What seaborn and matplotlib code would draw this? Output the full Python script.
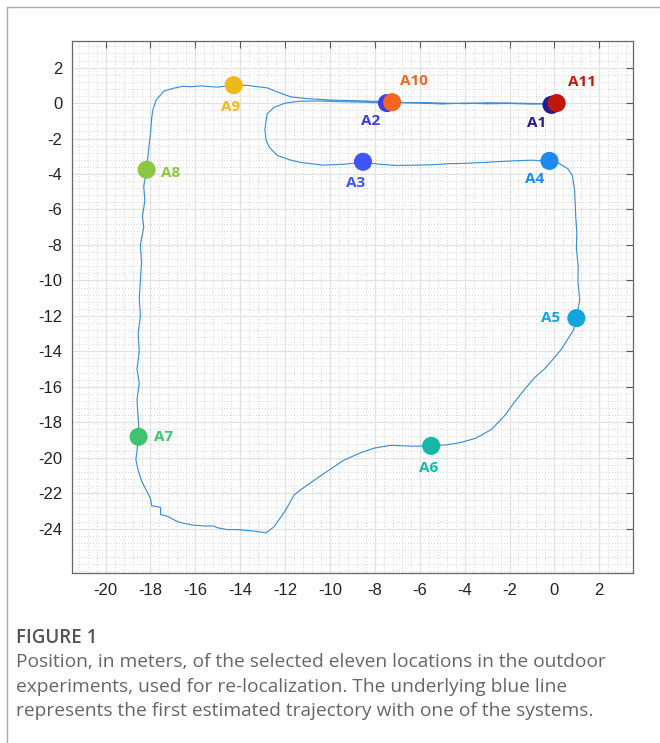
import numpy as np
import pandas as pd
import matplotlib
matplotlib.use("Agg")
import matplotlib.pyplot as plt
from matplotlib.ticker import MultipleLocator
import seaborn as sns

# estimated trajectory (m)
traj_x = [-0.1, -1.0, -2.0, -3.0, -4.0, -5.0, -6.0, -7.0, -7.46, -8.5, -9.5, -10.5, -11.4, -12.0,
          -12.5, -12.8, -12.85, -12.9, -12.85, -12.7, -12.35, -11.8, -11.3, -10.3, -9.4, -8.53,
          -7.8, -6.98, -6.2, -5.5, -4.7, -4.0, -3.2, -2.5, -1.7, -1.0, -0.22, 0.2, 0.6, 0.8, 0.9,
          0.92, 0.95, 1.0, 0.98, 1.06, 1.05, 1.13, 0.98, 0.85, 0.55, 0.3, -0.1, -0.45, -0.9, -1.3,
          -1.8, -2.2, -2.8, -3.5, -4.2, -4.8, -5.49, -6.3, -7.3, -8.0, -8.6, -9.4, -10.4, -11.3,
          -11.6, -12.0, -12.5, -12.86, -13.3, -13.7, -14.2, -14.6, -15.0, -15.2, -15.6, -16.1,
          -16.5, -16.8, -17.25, -17.55, -17.55, -17.95, -18.0, -18.2, -18.4, -18.55, -18.65,
          -18.6, -18.58, -18.48, -18.56, -18.6, -18.5, -18.6, -18.5, -18.55, -18.45, -18.5,
          -18.45, -18.4, -18.45, -18.3, -18.36, -18.25, -18.3, -18.17, -18.1, -18.0, -17.95,
          -17.9, -17.75, -17.4, -16.95, -16.56, -16.2, -15.76, -15.4, -15.0, -14.29, -13.67,
          -13.3, -12.8, -12.3, -11.74, -11.0, -9.96, -9.0, -8.0, -7.23, -6.0, -5.0, -4.0, -3.0,
          -2.0, -1.0, 0.1]
traj_y = [-0.05, -0.02, 0.0, 0.02, -0.03, 0.0, 0.03, 0.02, 0.0, 0.05, 0.08, 0.12, 0.1, 0.0,
          -0.25, -0.6, -1.0, -1.5, -2.1, -2.5, -2.95, -3.2, -3.35, -3.5, -3.45, -3.33,
          -3.45, -3.52, -3.5, -3.48, -3.42, -3.4, -3.35, -3.3, -3.25, -3.22, -3.28, -3.4, -3.7,
          -4.1, -4.9, -5.5, -6.4, -7.3, -8.2, -9.2, -10.1, -11.1, -12.15, -12.8, -13.4, -13.9,
          -14.5, -15.0, -15.5, -16.1, -16.9, -17.6, -18.4, -18.9, -19.15, -19.27, -19.33, -19.35,
          -19.3, -19.45, -19.7, -20.15, -21.0, -21.8, -22.1, -23.0, -23.9, -24.23, -24.15, -24.1,
          -24.05, -24.05, -23.95, -23.85, -23.85, -23.8, -23.7, -23.6, -23.3, -23.2, -22.8, -22.7,
          -22.3, -21.8, -21.3, -20.7, -20.1, -19.6, -19.3, -18.9, -17.6, -16.7, -15.8, -15.0,
          -14.0, -13.0, -12.0, -11.0, -10.0, -9.0, -8.0, -7.0, -6.4, -5.5, -4.7, -3.76, -2.8,
          -1.7, -0.9, -0.4, 0.17, 0.68, 0.84, 0.95, 0.92, 0.97, 0.93, 0.9, 1.01, 1.0, 0.93, 0.86,
          0.6, 0.35, 0.25, 0.17, 0.14, 0.1, 0.05, 0.0, -0.05, 0.0, -0.04, -0.02, -0.06, 0.0]

# selected locations
loc_names = ["A1", "A2", "A3", "A4", "A5", "A6", "A7", "A8", "A9", "A10", "A11"]
loc_x = [-0.13, -7.46, -8.53, -0.22, 0.98, -5.49, -18.53, -18.17, -14.29, -7.23, 0.1]
loc_y = [-0.1, 0.0, -3.31, -3.26, -12.13, -19.33, -18.82, -3.76, 1.01, 0.05, 0.0]
loc_colors = ["#231c8c", "#3b3fe0", "#3f56f5", "#1e88f0", "#12a4de", "#15b8a4",
              "#3cc46e", "#8dc63f", "#f1b81c", "#f26522", "#c0170c"]

x_ticks = list(range(-20, 3, 2))
y_ticks = list(range(-24, 3, 2))

caption_title = "FIGURE 1"
caption_lines = [
    "Position, in meters, of the selected eleven locations in the outdoor",
    "experiments, used for re-localization. The underlying blue line",
    "represents the first estimated trajectory with one of the systems.",
]

# label offsets in points (layout only)
label_off = [(-11, -13), (-12, -13), (-5, -15), (-11, -13), (-18.5, 0), (-1.5, -16),
             (18, 0), (17, -2), (-2, -16), (16, 15.5), (18.5, 15)]

sns.set_theme(style="white")
plt.rcParams["font.family"] = ["Liberation Sans", "DejaVu Sans"]
plt.rcParams["axes.unicode_minus"] = False

fig = plt.figure(figsize=(6.6, 7.43), dpi=100)
ax = fig.add_axes([0.109, 0.2288, 0.850, 0.716])

traj = pd.DataFrame({"x": traj_x, "y": traj_y})
sns.lineplot(data=traj, x="x", y="y", sort=False, estimator=None, color="#3d8fd6",
             linewidth=0.85, ax=ax, zorder=3)

locs = pd.DataFrame({"x": loc_x, "y": loc_y, "name": loc_names})
sns.scatterplot(data=locs, x="x", y="y", hue="name", palette=loc_colors, s=170,
                edgecolor="none", legend=False, ax=ax, zorder=4)

for name, x, y, c, off in zip(loc_names, loc_x, loc_y, loc_colors, label_off):
    ax.annotate(name, (x, y), xytext=off, textcoords="offset points", ha="center",
                va="center", color=c, fontsize=11, fontweight="bold",
                family=["Open Sans", "DejaVu Sans"], zorder=5)

ax.set_xlim(-21.5, 3.5)
ax.set_ylim(-26.5, 3.5)
ax.set_xticks(x_ticks)
ax.set_yticks(y_ticks)
ax.xaxis.set_minor_locator(MultipleLocator(0.4))
ax.yaxis.set_minor_locator(MultipleLocator(0.4))
ax.grid(which="major", color="#e2e2e2", linewidth=0.9, linestyle="-")
ax.grid(which="minor", color="#c8c8c8", linewidth=0.6, linestyle=(0, (1, 2.5)))
ax.set_axisbelow(True)
ax.tick_params(which="major", direction="in", length=5, width=0.8, color="#555555",
               top=True, right=True, labelsize=12, labelcolor="#222222", pad=7)
ax.tick_params(which="minor", length=0)
for sp in ax.spines.values():
    sp.set_color("#666666")
    sp.set_linewidth(0.9)
ax.set_xlabel("")
ax.set_ylabel("")

# card frame
fig.add_artist(plt.Line2D([7 / 660, 1], [1 - 7 / 743, 1 - 7 / 743], color="#aaaaaa",
                          linewidth=1, transform=fig.transFigure))
fig.add_artist(plt.Line2D([7 / 660, 7 / 660], [0, 1 - 7 / 743], color="#aaaaaa",
                          linewidth=1, transform=fig.transFigure))

cap_font = ["Open Sans", "DejaVu Sans"]
fig.text(16 / 660, 1 - 638 / 743, caption_title, color="#555555", fontsize=13.5,
         fontweight="semibold", family=cap_font, va="center", ha="left")
for i, line in enumerate(caption_lines):
    fig.text(16 / 660, 1 - (662 + 24.5 * i) / 743, line, color="#666666", fontsize=13.8,
             family=cap_font, va="center", ha="left")

fig.savefig("out.png", dpi=100)
